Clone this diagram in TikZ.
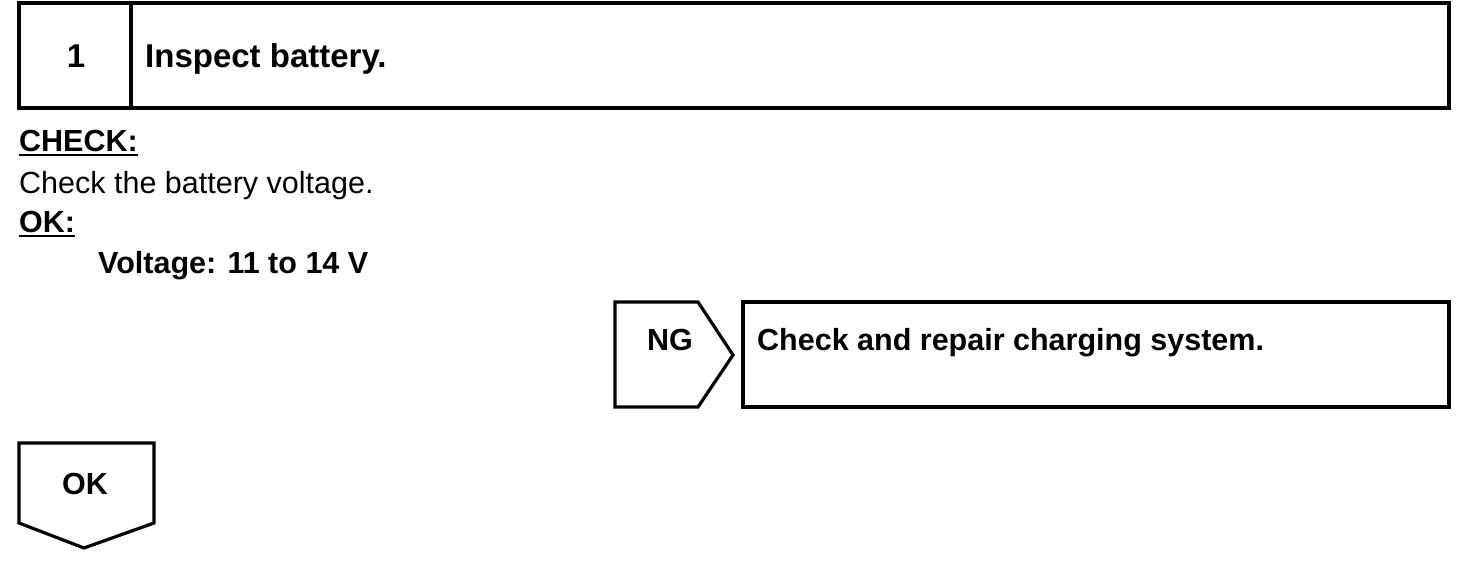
\documentclass[tikz,border=0pt]{standalone}
\usepackage{fontspec}
\setmainfont{Liberation Sans}
\begin{document}
\begin{tikzpicture}[x=1pt,y=-1pt,
  frame/.style={draw, line width=3.2pt, line join=miter},
  reg/.style={font=\fontsize{30.5}{36}\selectfont, inner sep=0pt, anchor=base west},
  bld/.style={font=\fontsize{30.5}{36}\selectfont\bfseries, inner sep=0pt, anchor=base west},
  uline/.style={line width=2pt}]
\useasboundingbox (0,0) rectangle (1472,568);
% step header
\draw[frame] (19,3) rectangle (1449,108);
\draw[frame] (131,3) -- (131,108);
\node[bld, font=\fontsize{33}{38}\selectfont\bfseries, anchor=base] (num) at (76,67) {1};
\node[bld, font=\fontsize{33}{38}\selectfont\bfseries] (title) at (145,67) {Inspect battery.};
% check text
\node[bld] (chk) at (19,151) {CHECK:};
\draw[uline] (19,154.5) -- (chk.base east |- 0,154.5);
\node[reg] (chkt) at (19,193) {Check the battery voltage.};
\node[bld] (ok) at (19,232) {OK:};
\draw[uline] (19,235.5) -- (ok.base east |- 0,235.5);
\node[bld] (volt) at (98,273) {Voltage: 11 to 14 V};
% NG branch
\draw[frame] (615,302) -- (698,302) -- (733,355) -- (698,407) -- (615,407) -- cycle;
\node[bld, anchor=base] (ng) at (670,350) {NG};
\draw[frame] (743,302) rectangle (1449,407);
\node[bld] (rep) at (757,350) {Check and repair charging system.};
% OK branch
\draw[frame] (19,443) -- (154,443) -- (154,523) -- (84,548) -- (19,523) -- cycle;
\node[bld, anchor=base] (okb) at (85,494) {OK};
\end{tikzpicture}
\end{document}
